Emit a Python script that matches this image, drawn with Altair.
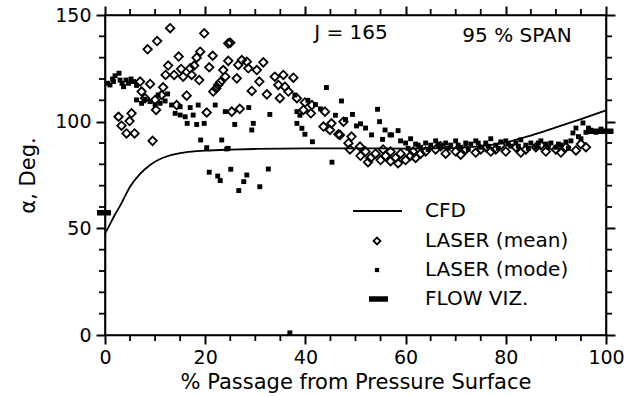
import altair as alt
import pandas as pd

# ---------------- data ----------------
cfd_x = [0, 1, 2, 3, 5, 7, 9, 11, 13, 16, 20, 25, 30, 40, 50, 60, 70, 75, 80, 85, 90, 95, 100]
cfd_y = [47.5, 52, 56.5, 60.5, 69.5, 75.5, 79.7, 82.5, 84.2, 85.6, 86.4, 86.9, 87.2, 87.5, 87.5, 87.4, 87.6, 88.5, 90.3, 93.5, 97.3, 101.2, 105.3]

mean_x = [2.7, 3.3, 4.3, 4.9, 5.3, 5.9, 7.0, 7.3, 8.0, 8.5, 9.0, 9.5, 10.0, 10.2, 10.4, 11.3, 11.6,
          12.1, 12.6, 13.0, 13.8, 14.3, 14.7, 15.2, 15.6, 16.3, 17.0, 17.3, 17.8, 18.3, 18.8, 19.0,
          19.8, 20.3, 20.8, 21.5, 21.6, 22.2, 22.6, 23.0, 23.6, 24.0, 24.6, 24.6, 25.0, 25.3, 26.3,
          26.6, 26.9, 27.3, 28.3, 28.6, 29.3, 30.3, 30.8, 31.6, 32.3, 33.9, 34.6, 34.9, 35.6, 35.9,
          36.6, 37.6, 38.3, 39.6, 39.9, 41.1, 41.3, 43.6, 43.9, 44.9, 45.2, 46.6, 46.9, 47.6, 48.6,
          48.9, 49.2, 50.9,
          51, 52, 52.5, 53, 54, 55, 55.5, 56, 57, 57, 58, 58.5, 59, 60, 61, 61.5, 62, 63,
          64, 66, 67, 68, 70, 71, 72, 74, 75, 76, 77, 78, 79, 80, 82, 83, 84, 86, 87, 88,
          90, 91, 92, 94, 95, 96]
mean_y = [102.3, 98.1, 94.5, 100.3, 103.9, 94.5, 118.8, 114.1, 111.0, 133.9, 117.7, 91.0, 110.2, 105.5,
          137.8, 112.5, 116.1, 121.9, 126.3, 143.8, 121.9, 107.8, 130.5, 124.7, 121.1, 112.2, 125.0,
          121.9, 126.3, 130.0, 119.5, 132.8, 141.4, 104.3, 125.5, 130.9, 114.1, 115.5, 117.2, 118.5,
          124.2, 121.1, 136.7, 128.5, 137.0, 104.7, 120.3, 126.6, 106.0, 128.9, 128.1, 125.0, 114.4,
          124.2, 118.8, 127.8, 112.8, 121.1, 117.2, 111.0, 121.9, 116.4, 114.1, 120.6, 111.0, 105.5,
          109.0, 103.9, 107.8, 97.7, 104.7, 96.1, 99.2, 94.1, 93.8, 100.0, 89.9, 87.0, 93.0, 88.3,
          84, 86, 81, 83, 85, 82, 87, 84, 86, 81.5, 83, 80.5, 85, 82, 84, 86, 83, 85,
          86, 87, 88.5, 85, 86, 84.5, 87, 85.5, 87, 88, 86, 87, 89, 86, 88, 85.5, 87, 88, 89, 86,
          87, 85.5, 88, 86.5, 89.5, 88]

mode_x = [0.5, 1.0, 1.5, 1.7, 2.0, 2.8, 3.0, 3.4, 3.7, 4.2, 4.7, 5.2, 5.7, 6.3, 6.3, 7.3, 8.0, 9.0,
          10.0, 10.6, 11.0, 12.0, 12.5, 13.3, 14.0, 15.0, 15.0, 16.0, 16.4, 17.0, 17.6, 18.3, 18.6,
          19.1, 19.8, 20.3, 20.8, 22.0, 22.5, 23.0, 23.3, 24.0, 24.3, 24.6, 25.1, 25.9, 26.7, 27.7,
          28.3, 28.7, 29.3, 29.6, 30.9, 32.6, 32.9, 36.9, 37.9, 38.3, 38.3, 38.9, 39.3, 39.9, 40.5,
          41.4, 42.0, 43.0, 44.2, 45.3, 46.0, 47.2, 48.0, 49.4, 50.2, 51.0, 52.0, 53.2, 54.4, 54.8,
          55.4, 55.9, 56.9, 57.2, 58.5, 59.0, 60.0, 61.0, 62.0,
          63, 64, 65, 66, 67, 68, 69, 70, 71, 72, 73, 74, 75, 76, 77, 78, 79, 80, 81, 82, 83, 84,
          85, 86, 87, 88, 89, 90, 91, 92, 93, 93.4, 94, 95, 95.4, 96, 97, 98, 99, 100,
          60.5, 62.5, 64.5, 66.5, 68.5, 70.5, 72.5, 74.5, 76.5, 78.5, 80.5, 82.5, 84.5, 86.5, 88.5,
          90.5, 92.5, 94.5, 96.5]
mode_y = [118.0, 117.2, 120.0, 118.8, 121.5, 122.7, 119.5, 118.0, 116.4, 119.5, 118.0, 120.0, 118.8,
          117.0, 110.2, 108.6, 110.5, 109.4, 107.8, 112.5, 108.6, 109.7, 113.0, 107.8, 103.9, 107.0,
          103.1, 102.3, 99.2, 106.6, 103.1, 98.7, 107.8, 91.4, 99.2, 87.8, 76.3, 107.8, 74.5, 72.4,
          91.4, 104.7, 87.2, 87.5, 77.7, 98.7, 67.7, 71.9, 75.0, 106.6, 96.1, 99.2, 69.5, 77.8, 103.4,
          1.0, 112.5, 104.7, 99.2, 103.0, 96.9, 94.1, 110.0, 90.6, 108.0, 106.0, 116.0, 81.0, 103.0,
          109.7, 101.0, 103.4, 98.0, 99.0, 97.0, 93.8, 105.8, 100.0, 91.7, 96.1, 93.8, 93.8, 95.8,
          91.0, 90.0, 92.0, 89.5,
          88, 90, 89, 91, 88.5, 90, 89, 91, 88, 90, 89.5, 91, 88, 90, 92, 89, 90.5, 91, 88.5, 90,
          91.5, 89, 90, 88, 91, 89.5, 90, 88, 89, 90.5, 91, 94.7, 97, 92, 99.4, 95, 96, 95, 96.5, 95.5,
          87.5, 89, 87, 89.5, 87.5, 89, 87, 90, 88.5, 87.5, 89.5, 88.5, 87.5, 90, 88, 89.5, 87.5, 93, 97]

flow_x = [-1.6, 96.0]
flow_x2 = [1.2, 101.5]
flow_y = [57.3, 95.5]

x_major = [0, 20, 40, 60, 80, 100]
y_major = [0, 50, 100, 150]
x_minor = [5, 10, 15, 25, 30, 35, 45, 50, 55, 65, 70, 75, 85, 90, 95]
y_minor = [10, 20, 30, 40, 60, 70, 80, 90, 110, 120, 130, 140]

legend_labels = ["CFD", "LASER (mean)", "LASER (mode)", "FLOW VIZ."]

FONT = "DejaVu Sans"
FS = 19
FS_BIG = 20

W, H = 501, 320

cfd = pd.DataFrame({"x": cfd_x, "y": cfd_y})
mean = pd.DataFrame({"x": mean_x, "y": mean_y})
mode = pd.DataFrame({"x": mode_x, "y": mode_y})
flow = pd.DataFrame({"x": flow_x, "x2": flow_x2, "y": flow_y})
xmin_df = pd.DataFrame({"x": x_minor})
ymin_df = pd.DataFrame({"y": y_minor})

xs = alt.Scale(domain=[0, 100], nice=False, zero=False)
ys = alt.Scale(domain=[0, 150], nice=False, zero=False)

common_axis = dict(domainColor="black", domainWidth=1.6, tickColor="black", tickWidth=2,
                   tickSize=9,
                   labelFont=FONT, labelFontSize=FS, labelColor="black",
                   titleFont=FONT, titleFontSize=21, titleColor="black", titleFontWeight="normal",
                   grid=False)

x_bottom = alt.Axis(values=x_major, labelPadding=4, titlePadding=4, labelFlush=False,
                    title="% Passage from Pressure Surface", orient="bottom", **common_axis)
y_left = alt.Axis(values=y_major, labelPadding=5, titlePadding=16,
                  title="α, Deg.", orient="left", **common_axis)
x_top = alt.Axis(values=x_major, labels=False, title=None, orient="top", **common_axis)
y_right = alt.Axis(values=y_major, labels=False, title=None, orient="right", **common_axis)

mean_layer = alt.Chart(mean).mark_point(shape="diamond", size=72, filled=False,
                                         stroke="black", strokeWidth=1.8, opacity=1).encode(
    x=alt.X("x:Q", scale=xs, axis=x_bottom),
    y=alt.Y("y:Q", scale=ys, axis=y_left),
)
mode_layer = alt.Chart(mode).mark_square(size=24, color="black", opacity=1).encode(
    x=alt.X("x:Q", scale=xs, axis=None),
    y=alt.Y("y:Q", scale=ys, axis=None),
)
cfd_layer = alt.Chart(cfd).mark_line(color="black", strokeWidth=1.8, interpolate="monotone").encode(
    x=alt.X("x:Q", scale=xs, axis=x_top),
    y=alt.Y("y:Q", scale=ys, axis=y_right),
)
flow_layer = alt.Chart(flow).mark_rule(color="black", strokeWidth=5.5, clip=False).encode(
    x=alt.X("x:Q", scale=xs, axis=None),
    x2="x2:Q",
    y=alt.Y("y:Q", scale=ys, axis=None),
)

# minor ticks on all four sides (through the scales)
minor_style = dict(color="black", strokeWidth=1.8)
mx_bottom = alt.Chart(xmin_df).mark_rule(**minor_style).encode(
    x=alt.X("x:Q", scale=xs, axis=None), y=alt.value(H), y2=alt.value(H + 6))
mx_top = alt.Chart(xmin_df).mark_rule(**minor_style).encode(
    x=alt.X("x:Q", scale=xs, axis=None), y=alt.value(0), y2=alt.value(-6))
my_left = alt.Chart(ymin_df).mark_rule(**minor_style).encode(
    y=alt.Y("y:Q", scale=ys, axis=None), x=alt.value(0), x2=alt.value(-6))
my_right = alt.Chart(ymin_df).mark_rule(**minor_style).encode(
    y=alt.Y("y:Q", scale=ys, axis=None), x=alt.value(W), x2=alt.value(W + 6))

# annotation texts
txt_j = alt.Chart().mark_text(text="J = 165", font=FONT, fontSize=FS_BIG, color="black",
                              align="center", baseline="middle").encode(
    x=alt.value(246), y=alt.value(18))
txt_span = alt.Chart().mark_text(text="95 % SPAN", font=FONT, fontSize=FS_BIG, color="black",
                                 align="center", baseline="middle").encode(
    x=alt.value(412), y=alt.value(21))

# legend (manually drawn)
row_y = [196, 226, 255, 284]
leg_text = [
    alt.Chart().mark_text(text=lab, font=FONT, fontSize=FS_BIG, color="black",
                          align="left", baseline="middle").encode(
        x=alt.value(320), y=alt.value(ry))
    for lab, ry in zip(legend_labels, row_y)
]
leg_line = alt.Chart().mark_rule(color="black", strokeWidth=1.8).encode(
    x=alt.value(248), x2=alt.value(297), y=alt.value(row_y[0]))
leg_mean = alt.Chart().mark_point(shape="diamond", size=48, filled=False, stroke="black",
                                  strokeWidth=1.8, opacity=1).encode(
    x=alt.value(272), y=alt.value(row_y[1]))
leg_mode = alt.Chart().mark_square(size=18, color="black", opacity=1).encode(
    x=alt.value(272), y=alt.value(row_y[2]))
leg_flow = alt.Chart().mark_rule(color="black", strokeWidth=5.5).encode(
    x=alt.value(264), x2=alt.value(283), y=alt.value(row_y[3]))

chart = alt.layer(
    mean_layer, cfd_layer, mode_layer, flow_layer,
    mx_bottom, mx_top, my_left, my_right,
    txt_j, txt_span, leg_line, leg_mean, leg_mode, leg_flow, *leg_text
).resolve_axis(x="independent", y="independent").properties(
    width=W, height=H,
    autosize=alt.AutoSizeParams(type="none"),
    padding={"left": 105, "top": 15, "right": 18, "bottom": 61},
    background="white",
).configure_view(stroke="black", strokeWidth=1.6)

chart.save("out.html", embed_options={"renderer": "svg", "actions": False})
